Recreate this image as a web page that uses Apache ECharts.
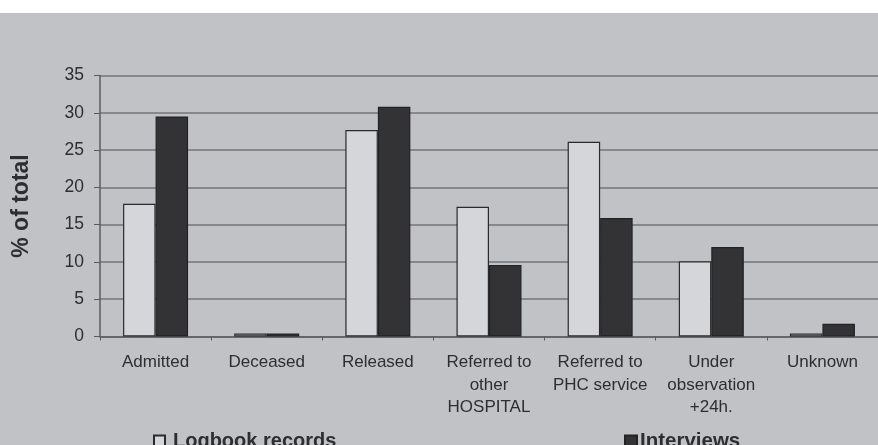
<!DOCTYPE html>
<html>
<head>
<meta charset="utf-8">
<script src="https://cdn.jsdelivr.net/npm/echarts@6/dist/echarts.min.js"></script>
<style>
  html, body { margin: 0; padding: 0; background: #ffffff; }
  #chart { width: 878px; height: 445px; }
</style>
</head>
<body>
<div id="chart"></div>
<script>
// Outcome categories and percentage shares from both sources
const categories = [
  'Admitted',
  'Deceased',
  'Released',
  'Referred to\nother\nHOSPITAL',
  'Referred to\nPHC service',
  'Under\nobservation\n+24h.',
  'Unknown'
];
const logbookRecords = [17.8, 0.4, 27.7, 17.4, 26.1, 10.1, 0.4];
const interviews = [29.5, 0.4, 30.8, 9.6, 15.9, 12.0, 1.7];
const yTicks = { min: 0, max: 35, interval: 5 };

const FONT = '"Liberation Sans", Arial, sans-serif';
const TEXT = '#2e2e30';

const chart = echarts.init(document.getElementById('chart'), null, { renderer: 'canvas' });

chart.setOption({
  backgroundColor: '#c1c2c6',
  animation: false,
  graphic: [{
    type: 'rect',
    z: -10,
    shape: { x: 0, y: 0, width: 878, height: 13 },
    style: { fill: '#ffffff' }
  }],
  grid: { left: 100, right: -9, top: 75.5, bottom: 108.5 },
  legend: [
    {
      left: 153, top: 431, padding: 0,
      data: ['Logbook records'],
      itemWidth: 11, itemHeight: 11, itemGap: 0,
      icon: 'rect',
      textStyle: { fontFamily: FONT, fontSize: 20, fontWeight: 'bold', color: TEXT, padding: [0, 0, 0, 3] }
    },
    {
      left: 624, top: 431, padding: 0,
      data: ['Interviews'],
      itemWidth: 12, itemHeight: 12, itemGap: 0,
      icon: 'rect',
      textStyle: { fontFamily: FONT, fontSize: 20.5, fontWeight: 'bold', color: TEXT, padding: [0, 0, 0, -2] }
    }
  ],
  xAxis: {
    type: 'category',
    data: categories,
    axisLine: { lineStyle: { color: '#5a5b5f', width: 1.5 } },
    axisTick: { show: true, length: 4, lineStyle: { color: '#5a5b5f' } },
    axisLabel: {
      interval: 0,
      margin: 15,
      fontFamily: FONT,
      fontSize: 17,
      lineHeight: 22.5,
      color: TEXT
    }
  },
  yAxis: {
    type: 'value',
    min: yTicks.min,
    max: yTicks.max,
    interval: yTicks.interval,
    name: '% of total',
    nameLocation: 'middle',
    nameGap: 67,
    nameRotate: 90,
    nameTextStyle: { fontFamily: FONT, fontSize: 23, fontWeight: 'bold', color: TEXT },
    axisLine: { show: true, lineStyle: { color: '#5a5b5f', width: 1.5 } },
    axisTick: { show: true, length: 6, lineStyle: { color: '#5a5b5f' } },
    axisLabel: { margin: 16, fontFamily: FONT, fontSize: 17.5, color: TEXT },
    splitLine: { lineStyle: { color: '#737478', width: 1.5 } }
  },
  series: [
    {
      name: 'Logbook records',
      type: 'bar',
      data: logbookRecords,
      barWidth: 32.5,
      barGap: '0%',
      itemStyle: { color: '#d5d6d9', borderColor: '#2a2a2a', borderWidth: 1.2 }
    },
    {
      name: 'Interviews',
      type: 'bar',
      data: interviews,
      barWidth: 32.5,
      barGap: '0%',
      itemStyle: { color: '#333335', borderColor: '#222222', borderWidth: 1.2 }
    }
  ]
});
</script>
</body>
</html>
